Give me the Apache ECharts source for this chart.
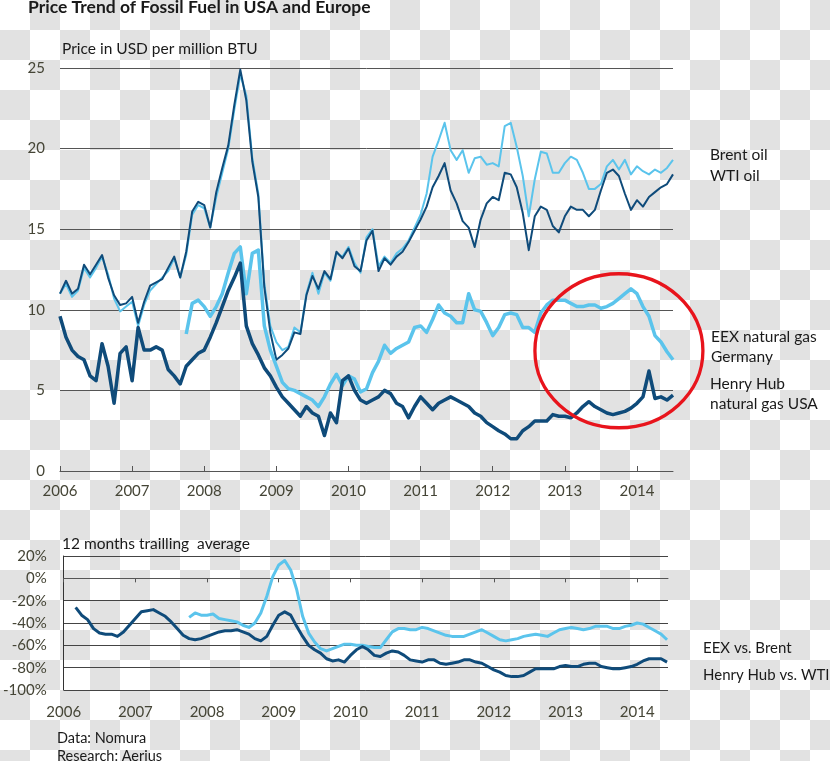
<!DOCTYPE html>
<html><head><meta charset="utf-8">
<script src="https://cdn.jsdelivr.net/npm/echarts@6/dist/echarts.min.js"></script>
<style>
html,body{margin:0;padding:0;}
body{width:830px;height:761px;overflow:hidden;background:#ffffff repeating-conic-gradient(#e2e2e2 0 25%, #ffffff 0 50%) 0 0/60px 60px;}
#chart{width:830px;height:761px;}
</style></head><body><div id="chart"></div>
<script>
// Monthly sample dates (decimal years), Jan 2006 .. mid 2014
const months = Array.from({length: 103}, (_, i) => +(2006 + i / 12).toFixed(4));
const years = [2006, 2007, 2008, 2009, 2010, 2011, 2012, 2013, 2014];

// Price in USD per million BTU
const brent = [11.0,11.6,10.8,11.2,12.6,12.0,12.6,13.3,12.2,10.7,
 9.9,10.2,10.5,9.0,10.3,11.2,11.6,12.0,12.4,13.2,
 12.0,13.4,15.9,16.5,16.3,15.1,17.0,18.5,20.0,22.4,
 24.6,23.3,19.4,17.2,11.6,9.0,8.0,7.5,7.7,8.9,
 8.6,11.0,12.3,11.0,12.3,11.8,13.5,13.3,13.9,12.9,
 12.3,14.5,15.0,12.7,13.3,12.9,13.5,13.8,14.3,15.1,
 15.9,17.2,19.5,20.5,21.6,19.9,19.3,19.9,18.5,19.4,
 19.5,19.0,19.1,18.9,21.4,21.6,20.1,18.3,15.8,18.1,
 19.8,19.7,18.5,18.5,19.1,19.5,19.3,18.5,17.5,17.5,
 17.8,18.9,19.3,18.7,19.3,18.4,18.9,18.6,18.4,18.7,
 18.5,18.8,19.3];
const wti = [11.0,11.8,11.0,11.3,12.8,12.2,12.8,13.4,12.0,10.9,
 10.3,10.4,10.8,9.2,10.5,11.5,11.7,11.9,12.6,13.3,
 12.0,13.6,16.1,16.7,16.5,15.1,17.3,18.8,20.2,22.7,
 24.9,23.0,19.2,17.0,11.4,8.6,6.9,7.2,7.6,8.6,
 8.5,10.9,12.1,11.3,12.4,11.9,13.6,13.2,13.8,12.7,
 12.4,14.3,14.9,12.4,13.2,12.8,13.3,13.6,14.2,14.9,
 15.6,16.4,17.6,18.3,19.1,17.4,16.6,15.5,15.1,13.9,
 15.6,16.6,17.0,16.8,18.5,18.4,17.6,16.0,13.7,15.8,
 16.4,16.2,15.2,14.8,15.8,16.4,16.2,16.2,15.8,16.2,
 17.4,18.5,18.7,18.3,17.2,16.2,16.8,16.4,17.0,17.3,
 17.6,17.8,18.4];
const henryHub = [9.6,8.3,7.5,7.1,6.9,5.9,5.6,7.9,6.5,4.2,
 7.3,7.7,5.6,8.9,7.5,7.5,7.7,7.5,6.3,5.9,
 5.4,6.5,6.9,7.3,7.5,8.3,9.2,10.2,11.2,12.0,
 12.9,9.0,7.9,7.2,6.4,5.9,5.2,4.6,4.2,3.8,
 3.4,4.0,3.6,3.4,2.2,3.6,3.0,5.6,5.9,5.0,
 4.4,4.2,4.4,4.6,5.0,4.8,4.2,4.0,3.3,4.0,
 4.6,4.2,3.8,4.2,4.4,4.6,4.4,4.2,4.0,3.6,
 3.4,3.0,2.75,2.5,2.3,2.0,2.0,2.5,2.75,3.1,
 3.1,3.1,3.5,3.4,3.4,3.3,3.6,4.0,4.3,4.0,
 3.8,3.6,3.5,3.6,3.7,3.9,4.2,4.6,6.2,4.5,
 4.6,4.4,4.7];
const eex = [null,null,null,null,null,null,null,null,null,null,
 null,null,null,null,null,null,null,null,null,null,
 null,8.5,10.4,10.6,10.2,9.6,10.2,11.0,12.3,13.5,
 13.9,11.0,13.5,13.7,9.0,7.5,6.5,5.5,5.1,5.0,
 4.8,4.6,4.4,4.0,4.6,5.4,6.0,5.3,5.9,5.7,
 4.9,5.1,6.1,6.8,7.8,7.3,7.6,7.8,8.0,8.9,
 9.0,8.6,9.4,10.3,9.8,9.6,9.2,9.2,11.0,10.0,
 9.9,9.2,8.4,8.9,9.7,9.8,9.7,8.9,8.9,8.6,
 9.8,10.3,10.6,10.6,10.6,10.4,10.2,10.2,10.3,10.3,
 10.1,10.2,10.4,10.7,11.0,11.3,11.0,10.2,9.6,8.4,
 8.0,7.4,6.9];

// 12 months trailing average, % difference
const eexVsBrent = [null,null,null,null,null,null,null,null,null,null,
 null,null,null,null,null,null,null,null,null,null,
 null,-35,-31,-33,-33,-32,-36,-37,-38,-39,
 -42,-44,-40,-31,-16,1.5,12,16,7.5,-10,
 -34,-49,-57,-63,-65,-63,-61,-59,-59,-60,
 -60,-61,-62,-62,-55,-48,-45,-45,-46,-46,
 -44,-45,-47,-49,-51,-52,-52,-52,-50,-48,
 -46,-49,-52,-55,-56,-55,-54,-52,-51,-50,
 -51,-52,-49,-46,-45,-44,-45,-46,-45,-43,
 -43,-43,-45,-45,-43,-42,-40,-41,-44,-47,
 -50,-55];
const hhVsWti = [null,null,-26,-33,-37,-45,-49,-50,-50,-52,
 -48,-42,-36,-30,-29,-28,-31,-34,-39,-45,
 -51,-54,-55,-54,-52,-50,-48,-47,-47,-46,
 -48,-50,-54,-56,-52,-42,-33,-30,-33,-43,
 -52,-60,-64,-67,-72,-74,-73,-75,-69,-64,
 -61,-64,-69,-70,-67,-65,-66,-69,-73,-74,
 -75,-73,-73,-76,-77,-76,-75,-73,-73,-75,
 -76,-79,-82,-84,-87,-88,-88,-87,-84,-81,
 -81,-81,-81,-79,-78,-79,-79,-77,-76,-76,
 -79,-80,-81,-81,-80,-79,-77,-74,-72,-72,
 -72,-75];

function pairs(vals) {
  return vals.map((v, i) => v == null ? null : [months[i], v]).filter(Boolean);
}

const FONT = 'Lato';
const AXC = '#454536';
const GRIDC = '#555555';
const LIGHT = '#5bc4ec';
const DARK = '#0f4b7a';
const TXT = '#1a1a1a';
const yearFmt = v => String(Math.round(v));

function t(text, left, top, size, lh, bold) {
  return { text, left, top, padding: 0,
    textStyle: { fontFamily: FONT, fontSize: size, lineHeight: lh, fontWeight: bold ? 'bold' : 'normal', color: TXT } };
}

function line(data, xi, yi, color, width) {
  return { type: 'line', xAxisIndex: xi, yAxisIndex: yi, data: pairs(data),
    symbol: 'none', showSymbol: false, silent: true, animation: false,
    lineStyle: { color, width, join: 'round' }, itemStyle: { color },
    emphasis: { disabled: true } };
}

const chart = echarts.init(document.getElementById('chart'), null, { renderer: 'canvas' });
const option = {
  animation: false,
  textStyle: { fontFamily: FONT },
  title: [
    t('Price Trend of Fossil Fuel in USA and Europe', 28, -3, 17.5, 20, true),
    t('Price in USD per million BTU', 62, 40, 15.5, 18),
    t('Brent oil\nWTI oil', 710, 144, 15.5, 21),
    t('EEX natural gas\nGermany', 711, 327, 15.5, 20),
    t('Henry Hub\nnatural gas USA', 710, 374, 15.5, 20),
    t('12 months trailling  average', 62, 535, 15.5, 18),
    t('EEX vs. Brent', 703, 639, 15, 18),
    t('Henry Hub vs. WTI', 703, 666, 15, 18),
    t('Data: Nomura\nResearch: Aerius', 57, 729, 14.5, 18)
  ],
  grid: [
    { left: 60, top: 68, width: 613, height: 403 },
    { left: 60, top: 556, width: 608, height: 134 }
  ],
  xAxis: [
    { gridIndex: 0, type: 'value', min: 2006, max: 2014.5, interval: 1,
      axisLine: { show: true, onZero: false, lineStyle: { color: GRIDC, width: 1 } },
      axisTick: { show: true, inside: true, length: 5, customValues: years, lineStyle: { color: GRIDC } },
      axisLabel: { customValues: years, margin: 13, fontSize: 15, color: AXC, fontFamily: FONT, formatter: yearFmt },
      splitLine: { show: false } },
    { gridIndex: 1, type: 'value', min: 2006, max: 2014.43, interval: 1, position: 'bottom',
      axisLine: { show: true, onZero: true, lineStyle: { color: GRIDC, width: 1 } },
      axisTick: { show: true, inside: false, length: 4, customValues: years, lineStyle: { color: GRIDC } },
      axisLabel: { show: false }, splitLine: { show: false } },
    { gridIndex: 1, type: 'value', min: 2006, max: 2014.43, interval: 1, position: 'bottom',
      axisLine: { show: false, onZero: false }, axisTick: { show: false },
      axisLabel: { customValues: years, margin: 15, fontSize: 15, color: AXC, fontFamily: FONT, formatter: yearFmt },
      splitLine: { show: false } }
  ],
  yAxis: [
    { gridIndex: 0, type: 'value', min: 0, max: 25, interval: 5,
      axisLine: { show: false }, axisTick: { show: false },
      axisLabel: { margin: 15, fontSize: 15, color: AXC, fontFamily: FONT },
      splitLine: { show: true, lineStyle: { color: GRIDC, width: 1 } } },
    { gridIndex: 1, type: 'value', min: -100, max: 20, interval: 20,
      axisLine: { show: true, lineStyle: { color: '#333333', width: 1 } }, axisTick: { show: false },
      axisLabel: { margin: 17, fontSize: 15, color: AXC, fontFamily: FONT, formatter: '{value}%' },
      splitLine: { show: true, lineStyle: { color: '#444444', width: 1 } } }
  ],
  series: [
    line(brent, 0, 0, LIGHT, 2),
    line(wti, 0, 0, DARK, 2),
    line(eex, 0, 0, LIGHT, 3.5),
    line(henryHub, 0, 0, DARK, 3.5),
    line(eexVsBrent, 1, 1, LIGHT, 3),
    line(hhVsWti, 1, 1, DARK, 3)
  ]
};
chart.setOption(option);

// Red highlight ellipse around the 2013-2014 gas prices
const c = chart.convertToPixel({ gridIndex: 0 }, [2013.75, 7.46]);
chart.setOption({
  graphic: [{ type: 'ellipse', silent: true, z: 100,
    shape: { cx: c[0], cy: c[1], rx: 84, ry: 77 },
    style: { fill: 'none', stroke: '#e8141c', lineWidth: 3.3 } }]
});
</script></body></html>
